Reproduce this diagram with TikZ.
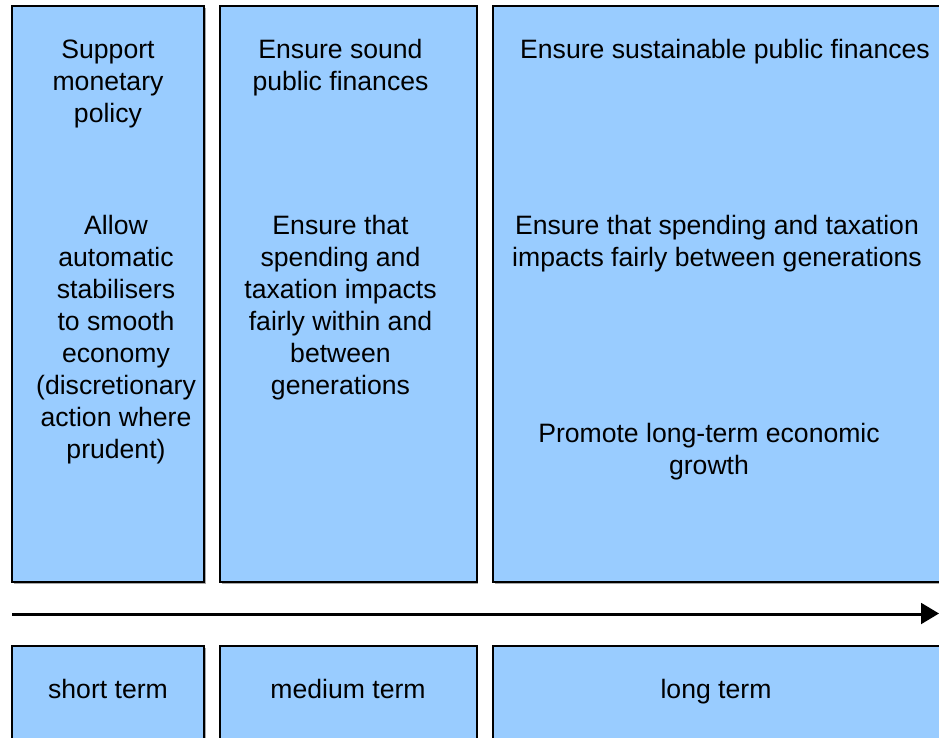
\documentclass[tikz,border=0pt]{standalone}
\usepackage{fontspec}
\setmainfont{Liberation Sans}
\usetikzlibrary{arrows.meta}
\definecolor{panelblue}{HTML}{99CCFF}
\definecolor{shade}{HTML}{A8A8A8}
\tikzset{
  panel/.style={fill=panelblue, draw=black, line width=2pt},
  panelshadow/.style={fill=shade},
  % multi-line labels sit on the baseline of their last line
  label/.style={align=center, inner sep=0pt, anchor=base,
    font=\fontsize{26.6}{32}\selectfont},
  timeline/.style={line width=2pt, -{Triangle[length=18pt, width=21pt]}}
}
\begin{document}
\begin{tikzpicture}[x=1pt, y=-1pt]
  \useasboundingbox (0,0) rectangle (939,737);

  % drop shadows behind the panels
  \foreach \xa/\xb in {12/204, 220/476.5, 493/950} {
    \fill[panelshadow] (\xa+1.5,6+1.5) rectangle (\xb+1.5,582+1.5);
    \fill[panelshadow] (\xa+1.5,646+1.5) rectangle (\xb+1.5,750);
  }

  % upper panels (aims)
  \draw[panel] (12,6) rectangle (204,582);
  \draw[panel] (220,6) rectangle (476.5,582);
  \draw[panel] (493,6) rectangle (950,582);

  % lower panels (time horizon)
  \draw[panel] (12,646) rectangle (204,750);
  \draw[panel] (220,646) rectangle (476.5,750);
  \draw[panel] (493,646) rectangle (950,750);

  % short term aims
  \node[label] (s1) at (108,122) {Support\\monetary\\policy};
  \node[label] (s2) at (116,458) {Allow\\automatic\\stabilisers\\to smooth\\economy\\(discretionary\\action where\\prudent)};

  % medium term aims
  \node[label] (m1) at (340.5,90) {Ensure sound\\public finances};
  \node[label] (m2) at (340.5,394) {Ensure that\\spending and\\taxation impacts\\fairly within and\\between\\generations};

  % long term aims
  \node[label] (l1) at (725,58) {Ensure sustainable public finances};
  \node[label] (l2) at (717,266) {Ensure that spending and taxation\\impacts fairly between generations};
  \node[label] (l3) at (709,474) {Promote long-term economic\\growth};

  % time axis
  \coordinate (tstart) at (12,613.5);
  \coordinate (tend) at (939,613.5);
  \draw[line width=2pt, shade] ([yshift=-1.5pt]tstart) -- ([yshift=-1.5pt,xshift=-18pt]tend);
  \draw[timeline] (tstart) -- (tend);

  % horizon labels
  \node[label] (hs) at (108,698) {short term};
  \node[label] (hm) at (348,698) {medium term};
  \node[label] (hl) at (716,698) {long term};
\end{tikzpicture}
\end{document}
